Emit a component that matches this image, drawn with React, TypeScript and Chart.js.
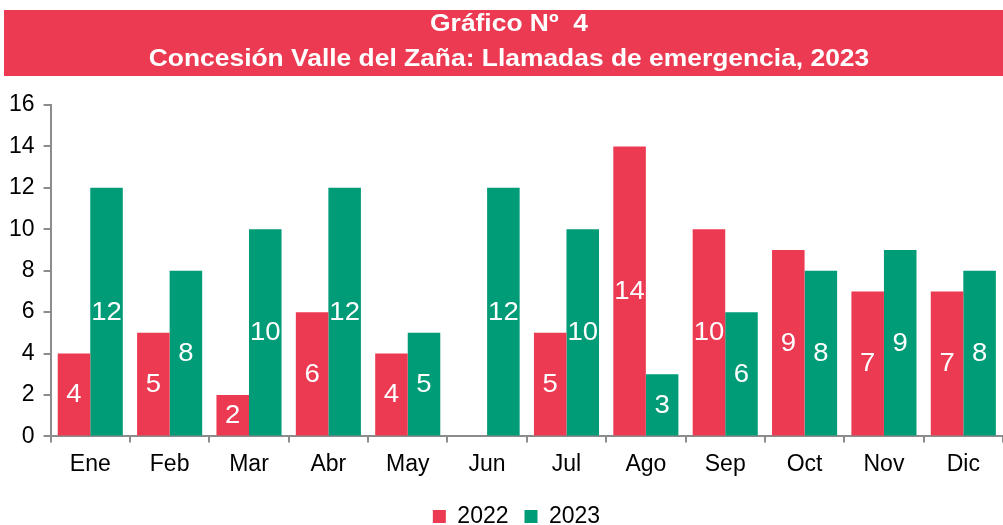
import React, { useEffect, useRef } from "react";
import { Chart, registerables } from "chart.js";

Chart.register(...registerables);

const months = ["Ene", "Feb", "Mar", "Abr", "May", "Jun", "Jul", "Ago", "Sep", "Oct", "Nov", "Dic"];
const values2022: (number | null)[] = [4, 5, 2, 6, 4, null, 5, 14, 10, 9, 7, 7];
const values2023: (number | null)[] = [12, 8, 10, 12, 5, 12, 10, 3, 6, 8, 9, 8];
const seriesNames = ["2022", "2023"];
const titleLines = ["Gráfico Nº  4", "Concesión Valle del Zaña: Llamadas de emergencia, 2023"];

const RED = "#EC3A52";
const GREEN = "#009B77";
const FONT = "'Liberation Sans', Arial, sans-serif";

const bannerPlugin = {
  id: "banner",
  beforeDraw(chart: any) {
    const ctx = chart.ctx;
    ctx.save();
    ctx.fillStyle = RED;
    ctx.fillRect(4, 10, 999, 66);
    ctx.fillStyle = "#ffffff";
    ctx.font = `bold 24px ${FONT}`;
    ctx.textAlign = "center";
    ctx.textBaseline = "middle";
    ctx.save();
    ctx.translate(509, 0);
    ctx.scale(1.1, 1);
    ctx.fillText(titleLines[0], 0, 24);
    ctx.fillText(titleLines[1], 0, 59);
    ctx.restore();
    ctx.restore();
  },
};

const legendShiftPlugin = {
  id: "legendShift",
  afterLayout(chart: any) {
    if (chart.legend) {
      chart.legend.left += 15;
      chart.legend.right += 15;
    }
  },
};

const valueLabelPlugin = {
  id: "valueLabels",
  afterDatasetsDraw(chart: any) {
    const ctx = chart.ctx;
    ctx.save();
    ctx.fillStyle = "#ffffff";
    ctx.font = `25px ${FONT}`;
    ctx.textAlign = "center";
    ctx.textBaseline = "middle";
    chart.data.datasets.forEach((ds: any, i: number) => {
      const meta = chart.getDatasetMeta(i);
      meta.data.forEach((bar: any, j: number) => {
        const v = ds.data[j];
        if (v === null || v === undefined || v === 0) return;
        const y = (bar.y + bar.base) / 2;
        ctx.save();
        ctx.translate(bar.x, y + 1);
        ctx.scale(1.1, 1);
        ctx.fillText(String(v), 0, 0);
        ctx.restore();
      });
    });
    ctx.restore();
  },
};

export default function App() {
  const ref = useRef<HTMLCanvasElement | null>(null);
  useEffect(() => {
    if (!ref.current) return;
    const chart = new Chart(ref.current, {
      type: "bar",
      data: {
        labels: months,
        datasets: [
          { label: seriesNames[0], data: values2022, backgroundColor: RED, borderWidth: 0 },
          { label: seriesNames[1], data: values2023, backgroundColor: GREEN, borderWidth: 0 },
        ],
      },
      options: {
        responsive: false,
        animation: false,
        maintainAspectRatio: false,
        datasets: { bar: { categoryPercentage: 0.82, barPercentage: 1 } },
        layout: { padding: { top: 105, right: 0, left: 0, bottom: -13 } },
        plugins: {
          legend: {
            position: "bottom",
            labels: {
              font: { family: FONT, size: 23 },
              color: "#000",
              boxWidth: 13,
              boxHeight: 13,
              padding: 16,
            },
          },
          tooltip: { enabled: false },
        },
        scales: {
          x: {
            grid: {
              display: true,
              drawOnChartArea: false,
              drawTicks: true,
              tickLength: 6,
              color: "#8c8c8c",
              lineWidth: 2,
              offset: true,
            },
            border: { color: "#8c8c8c", width: 2 },
            ticks: { font: { family: FONT, size: 23 }, color: "#000", padding: 8 },
            afterFit: (scale: any) => {
              scale.height += 3;
            },
          },
          y: {
            min: 0,
            max: 16,
            ticks: { stepSize: 2, font: { family: FONT, size: 23 }, color: "#000", padding: 9 },
            grid: {
              display: true,
              drawOnChartArea: false,
              drawTicks: true,
              tickLength: 7,
              color: "#8c8c8c",
              lineWidth: 2,
            },
            border: { color: "#8c8c8c", width: 2 },
          },
        },
      },
      plugins: [bannerPlugin, valueLabelPlugin, legendShiftPlugin],
    });
    return () => chart.destroy();
  }, []);
  return (
    <div style={{ position: "fixed", left: 0, top: 0, width: 1003, height: 525, background: "#fff" }}>
      <canvas ref={ref} width={1003} height={525} style={{ width: 1003, height: 525 }} />
    </div>
  );
}
